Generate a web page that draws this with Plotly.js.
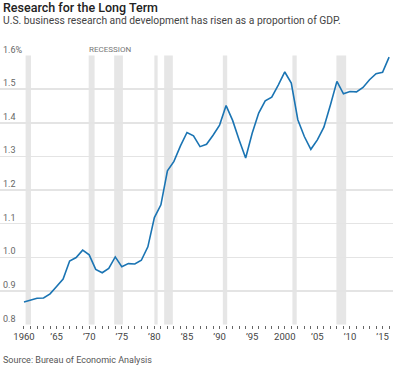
<!DOCTYPE html>
<html>
<head>
<meta charset="utf-8">
<script src="https://cdn.plot.ly/plotly-3.0.1.min.js"></script>
<style>html,body{margin:0;padding:0;background:#fff;}#chart{width:400px;height:370px;}</style>
</head>
<body>
<div id="chart"></div>
<script>
const years = [1960,1961,1962,1963,1964,1965,1966,1967,1968,1969,1970,1971,1972,1973,1974,1975,1976,1977,1978,1979,1980,1981,1982,1983,1984,1985,1986,1987,1988,1989,1990,1991,1992,1993,1994,1995,1996,1997,1998,1999,2000,2001,2002,2003,2004,2005,2006,2007,2008,2009,2010,2011,2012,2013,2014,2015,2016];
const rdShare = [0.867,0.872,0.878,0.879,0.891,0.913,0.935,0.989,0.999,1.021,1.007,0.964,0.954,0.967,1.001,0.972,0.981,0.980,0.991,1.031,1.118,1.156,1.257,1.285,1.331,1.371,1.361,1.329,1.336,1.363,1.393,1.451,1.407,1.349,1.295,1.369,1.429,1.465,1.476,1.512,1.551,1.518,1.409,1.359,1.321,1.349,1.387,1.453,1.523,1.486,1.493,1.492,1.505,1.528,1.546,1.550,1.595];
const recessionStart = [1960.25,1969.92,1973.83,1980.0,1981.5,1990.5,2001.17,2007.92];
const recessionEnd   = [1961.08,1970.83,1975.17,1980.5,1982.83,1991.17,2001.83,2009.42];
const yTickVals = [0.8,0.9,1.0,1.1,1.2,1.3,1.4,1.5,1.6];
const yTickText = ["0.8","0.9","1.0","1.1","1.2","1.3","1.4","1.5","1.6%"];
const xLabelYears = [1960,1965,1970,1975,1980,1985,1990,1995,2000,2005,2010,2015];
const xLabelText = ["1960","\u201965","\u201970","\u201975","\u201980","\u201985","\u201990","\u201995","2000","\u201905","\u201910","\u201915"];

const xTickText = years.map(y => {
  const i = xLabelYears.indexOf(y);
  return i >= 0 ? xLabelText[i] : "";
});

const FONT = "Roboto, 'Open Sans', sans-serif";

const bandShapes = recessionStart.map((s, i) => ({
  type: "rect", xref: "x", yref: "y", x0: s, x1: recessionEnd[i], y0: 0.8, y1: 1.6,
  fillcolor: "#e6e6e6", line: {width: 0}, layer: "below"
}));

const trace = {
  x: years, y: rdShare, type: "scatter", mode: "lines",
  line: {color: "#1a74b3", width: 1.6}, hoverinfo: "skip"
};

const yLabelAnns = yTickVals.map((v, i) => ({
  text: yTickText[i], xref: "paper", yref: "y", x: 0, y: v,
  xanchor: "left", yanchor: "bottom", xshift: 1, yshift: -1, showarrow: false,
  font: {family: FONT, size: 9, color: "#666"}
}));

const layout = {
  width: 400, height: 370,
  margin: {l: 0, r: 7, t: 55, b: 45},
  paper_bgcolor: "#fff", plot_bgcolor: "#fff",
  showlegend: false,
  font: {family: FONT, color: "#555"},
  xaxis: {
    range: [1956.32, 2016.6],
    tickmode: "array", tickvals: years, ticktext: xTickText,
    ticks: "outside", ticklen: 3, tickwidth: 1, tickcolor: "#666",
    showgrid: false, zeroline: false, showline: false,
    tickfont: {family: FONT, size: 9.5, color: "#444"}
  },
  yaxis: {
    range: [0.7985, 1.6015],
    tickmode: "array", tickvals: yTickVals.slice(1), ticktext: yTickText.slice(1),
    showticklabels: false, showgrid: true, gridcolor: "#e4e4e4", gridwidth: 1.5,
    zeroline: false, showline: false, ticks: ""
  },
  shapes: bandShapes,
  annotations: [
    {text: "Research for the Long Term",
     xref: "paper", yref: "paper", x: 0, xanchor: "left", y: 1, yanchor: "bottom",
     xshift: 1, yshift: 38, showarrow: false, font: {family: FONT, size: 12.5, weight: 500, color: "#222"}},
    {text: "U.S. business research and development has risen as a proportion of GDP.",
     xref: "paper", yref: "paper", x: 0, xanchor: "left", y: 1, yanchor: "bottom",
     xshift: 1, yshift: 26, showarrow: false, font: {family: FONT, size: 10.3, color: "#444"}},
    {text: "RECESSION", xref: "x", yref: "paper", x: recessionStart[1], xanchor: "left",
     y: 1, yanchor: "bottom", yshift: -1, xshift: -2, showarrow: false,
     font: {family: FONT, size: 8, color: "#777"}},
    {text: "Source: Bureau of Economic Analysis", xref: "paper", yref: "paper",
     x: 0, xanchor: "left", y: 0, yanchor: "top", xshift: 1, yshift: -28, showarrow: false,
     font: {family: FONT, size: 9, color: "#555"}}
  ].concat(yLabelAnns)
};

Plotly.newPlot("chart", [trace], layout, {displayModeBar: false, staticPlot: true});
</script>
</body>
</html>
